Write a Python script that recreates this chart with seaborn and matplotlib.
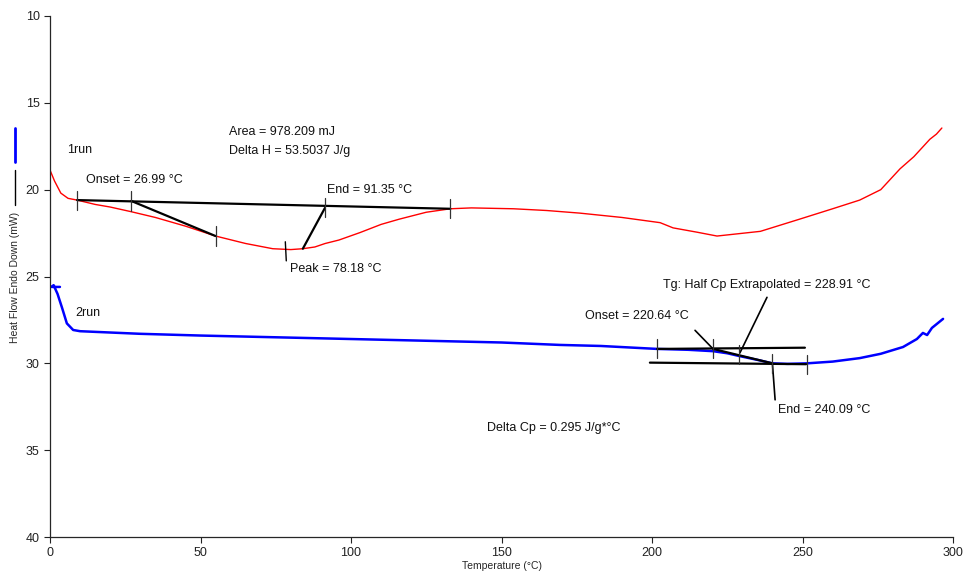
import matplotlib
matplotlib.use("Agg")
import matplotlib.pyplot as plt
from matplotlib.lines import Line2D
import seaborn as sns
import pandas as pd

# 1run (red) curve
run1_temp = [0, 1.5, 3.6, 6, 9, 15, 20, 27, 35, 45, 55, 65, 74, 80, 84, 88, 91.4,
             96, 103, 110, 116, 125, 133, 140, 154, 165, 176, 190, 202.7, 207, 215,
             221.6, 228, 236, 249, 260, 269, 276, 282.4, 287, 292.3, 294.5, 296.3]
run1_flow = [18.87, 19.5, 20.2, 20.5, 20.6, 20.85, 21.0, 21.27, 21.6, 22.1, 22.67, 23.1,
             23.4, 23.45, 23.4, 23.3, 23.1, 22.9, 22.47, 22.0, 21.7, 21.3, 21.1, 21.05,
             21.1, 21.2, 21.35, 21.6, 21.9, 22.2, 22.45, 22.67, 22.55, 22.4, 21.7, 21.1,
             20.6, 20.0, 18.8, 18.1, 17.1, 16.8, 16.45]

# 2run (blue) curve
run2_temp = [3.3, 0.5, 1.2, 2.5, 4.0, 5.6, 7.7, 10, 16.6, 30, 50, 100, 150, 169.4, 183,
             201.7, 212, 220.3, 225, 229, 235, 240, 245, 251.5, 260, 269, 276, 283.4,
             288, 290, 291.4, 293, 296.7]
run2_flow = [25.6, 25.6, 25.5, 26.0, 26.8, 27.7, 28.08, 28.15, 28.2, 28.3, 28.4, 28.6,
             28.8, 28.94, 29.0, 29.17, 29.22, 29.3, 29.42, 29.58, 29.8, 30.0, 30.03, 30.0,
             29.9, 29.7, 29.45, 29.06, 28.6, 28.25, 28.37, 27.96, 27.44]

# analysis construction lines (thick black)
peak_lines = [
    ([9, 133], [20.6, 21.1]),          # baseline
    ([27, 55], [20.65, 22.67]),        # onset tangent
    ([84, 91.35], [23.4, 21.05]),      # end leader
]
peak_ticks_x = [9, 27, 55, 91.35, 133]
peak_ticks_y = [20.6, 20.65, 22.67, 21.05, 21.1]

tg_lines = [
    ([201.7, 250.8], [29.17, 29.1]),   # upper baseline
    ([199.3, 251.2], [29.96, 30.05]),  # lower baseline
    ([220.3, 240], [29.17, 30.0]),     # tangent
]
tg_leaders = [
    ([214.3, 220.3], [28.1, 29.17]),
    ([238.2, 229.2], [26.2, 29.4]),
    ([240, 240.9], [30.0, 32.1]),
]
tg_ticks_x = [201.7, 220.3, 229, 240, 251.5]
tg_ticks_y = [29.17, 29.17, 29.5, 30.0, 30.05]

labels = [
    (5.6, 17.7, "1run"),
    (59.5, 16.7, "Area = 978.209 mJ"),
    (59.5, 17.75, "Delta H = 53.5037 J/g"),
    (12, 19.45, "Onset = 26.99 °C"),
    (92, 20.0, "End = 91.35 °C"),
    (79.7, 24.57, "Peak = 78.18 °C"),
    (8.3, 27.1, "2run"),
    (203.7, 25.5, "Tg: Half Cp Extrapolated = 228.91 °C"),
    (177.7, 27.3, "Onset = 220.64 °C"),
    (241.9, 32.7, "End = 240.09 °C"),
    (145.2, 33.7, "Delta Cp = 0.295 J/g*°C"),
]

sns.set_style("ticks")
plt.rcParams['font.family'] = ['Liberation Sans', 'DejaVu Sans']

fig = plt.figure(figsize=(9.68, 5.76), dpi=100)
ax = fig.add_axes([50 / 968, 1 - 537 / 576, 903 / 968, 521 / 576])

df1 = pd.DataFrame({"temp": run1_temp, "flow": run1_flow})
df2 = pd.DataFrame({"temp": run2_temp, "flow": run2_flow})
sns.lineplot(data=df1, x="temp", y="flow", sort=False, estimator=None,
             color="#ff0000", linewidth=1.0, ax=ax)
sns.lineplot(data=df2, x="temp", y="flow", sort=False, estimator=None,
             color="#0000ff", linewidth=1.8, ax=ax)

for xs, ys in peak_lines + tg_lines:
    ax.plot(xs, ys, color="black", linewidth=1.6)
for xs, ys in tg_leaders:
    ax.plot(xs, ys, color="black", linewidth=1.2)
for tx, ty in zip(peak_ticks_x + tg_ticks_x, peak_ticks_y + tg_ticks_y):
    ax.plot([tx, tx], [ty - 0.55, ty + 0.55], color="#333333", linewidth=0.9)
# peak marker
ax.plot([78.18, 78.5], [23.0, 24.1], color="black", linewidth=1.0)

for x, y, s in labels:
    ax.text(x, y, s, fontsize=9, va="center", ha="left", color="#111111")

ax.set_xlim(0, 300)
ax.set_ylim(40, 10)
ax.set_xticks([0, 50, 100, 150, 200, 250, 300])
ax.set_yticks([10, 15, 20, 25, 30, 35, 40])
ax.tick_params(labelsize=9, length=4, width=0.8, colors="#222222")
sns.despine(ax=ax)
for sp in ax.spines.values():
    sp.set_linewidth(0.9)
ax.set_xlabel("Temperature (°C)", fontsize=7.5, labelpad=1)
ax.set_ylabel("")

# y-axis label with line samples
fig.text(15 / 968, 1 - 277 / 576, "Heat Flow Endo Down (mW)", rotation=90,
         fontsize=7.5, ha="center", va="center")
fig.add_artist(Line2D([15 / 968, 15 / 968], [1 - 128 / 576, 1 - 162 / 576],
                      color="#0000ff", linewidth=2))
fig.add_artist(Line2D([15 / 968, 15 / 968], [1 - 170 / 576, 1 - 205 / 576],
                      color="black", linewidth=1))

fig.savefig("out.png", dpi=100)
